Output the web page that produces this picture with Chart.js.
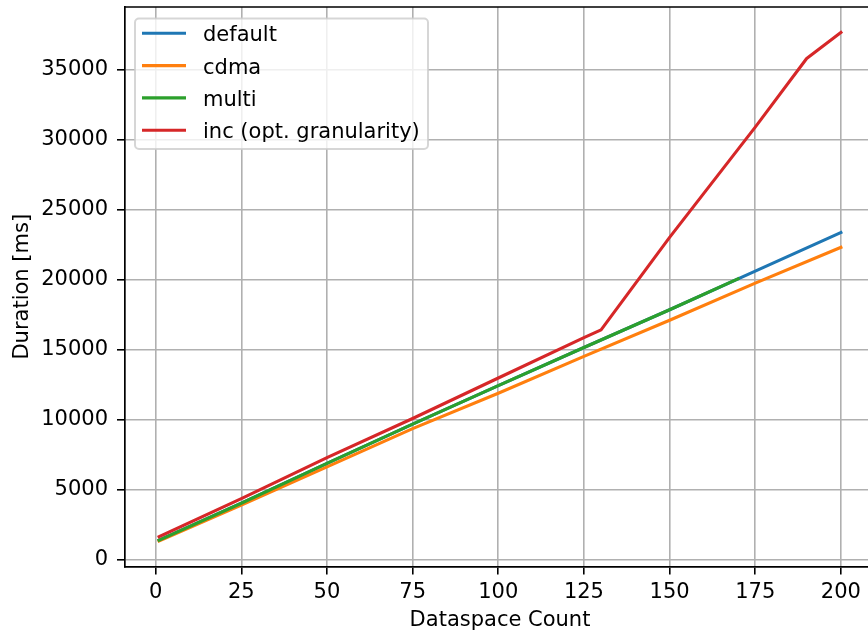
<!DOCTYPE html>
<html>
<head>
<meta charset="utf-8">
<script src="https://cdn.jsdelivr.net/npm/chart.js@4"></script>
<style>
  html, body { margin: 0; padding: 0; background: #fff; overflow: hidden; }
  #wrap { width: 900px; height: 631px; }
</style>
</head>
<body>
<div id="wrap"><canvas id="chart" width="900" height="631"></canvas></div>
<script>
// Data (dataspace count -> duration in ms)
const counts = [1, 25, 50, 75, 100, 125, 150, 175, 200];
const defaultMs = [1420, 4050, 6900, 9700, 12450, 15170, 17860, 20620, 23380];
const cdmaMs = [1350, 3920, 6650, 9380, 11900, 14530, 17110, 19760, 22320];
const multiCounts = [1, 25, 50, 75, 100, 125, 150, 170];
const multiMs = [1420, 4050, 6900, 9700, 12450, 15170, 17860, 20070];
const incCounts = [1, 25, 50, 75, 100, 125, 130, 150, 175, 190, 200];
const incMs = [1660, 4380, 7300, 10100, 12990, 15880, 16430, 23030, 30900, 35800, 37660];

const seriesLabels = ["default", "cdma", "multi", "inc (opt. granularity)"];
const seriesColors = ["#1f77b4", "#ff7f0e", "#2ca02c", "#d62728"];
const xTicks = [0, 25, 50, 75, 100, 125, 150, 175, 200];
const yTicks = [0, 5000, 10000, 15000, 20000, 25000, 30000, 35000];

function pairs(xs, ys) {
  return xs.map((x, i) => ({ x: x, y: ys[i] }));
}

// matplotlib-like 5% autoscale margins
const allX = counts.concat(multiCounts, incCounts);
const allY = defaultMs.concat(cdmaMs, multiMs, incMs);
const xLo = Math.min(...allX), xHi = Math.max(...allX);
const yLo = Math.min(...allY), yHi = Math.max(...allY);
const xPad = (xHi - xLo) * 0.05, yPad = (yHi - yLo) * 0.05;

const font = { family: "DejaVu Sans", size: 21 };

// fixed axis box sizes, no extra label overflow padding
function fixBox(size) {
  return function (scale) {
    if (scale.isHorizontal()) scale.height = size;
    else scale.width = size;
    scale.paddingTop = 0;
    scale.paddingBottom = 0;
    scale.paddingLeft = 0;
    scale.paddingRight = 0;
  };
}

// top/right spines + matplotlib style legend
const mplFrame = {
  id: "mplFrame",
  afterDatasetsDraw(chart) {
    const { ctx, chartArea } = chart;
    ctx.save();
    ctx.strokeStyle = "#000";
    ctx.lineWidth = 1.7;
    ctx.beginPath();
    ctx.moveTo(chartArea.left, chartArea.top);
    ctx.lineTo(chartArea.right, chartArea.top);
    ctx.lineTo(chartArea.right, chartArea.bottom);
    ctx.stroke();

    // legend box
    const bx = 135, by = 18.5, bw = 293, bh = 130.5, r = 4;
    ctx.beginPath();
    ctx.moveTo(bx + r, by);
    ctx.arcTo(bx + bw, by, bx + bw, by + bh, r);
    ctx.arcTo(bx + bw, by + bh, bx, by + bh, r);
    ctx.arcTo(bx, by + bh, bx, by, r);
    ctx.arcTo(bx, by, bx + bw, by, r);
    ctx.closePath();
    ctx.fillStyle = "rgba(255,255,255,0.8)";
    ctx.fill();
    ctx.strokeStyle = "rgba(204,204,204,0.8)";
    ctx.lineWidth = 2;
    ctx.stroke();

    ctx.font = font.size + "px " + font.family;
    ctx.textBaseline = "alphabetic";
    ctx.textAlign = "left";
    chart.data.datasets.forEach((ds, i) => {
      const cy = 33.3 + i * 32.3;
      ctx.strokeStyle = ds.borderColor;
      ctx.lineWidth = 3.1;
      ctx.beginPath();
      ctx.moveTo(142, cy);
      ctx.lineTo(186, cy);
      ctx.stroke();
      ctx.fillStyle = "#000";
      ctx.fillText(ds.label, 203, cy + 8);
    });
    ctx.restore();
  },
};

const ctx = document.getElementById("chart").getContext("2d");
new Chart(ctx, {
  type: "line",
  data: {
    datasets: [
      { label: seriesLabels[0], data: pairs(counts, defaultMs), order: 3 },
      { label: seriesLabels[1], data: pairs(counts, cdmaMs), order: 2 },
      { label: seriesLabels[2], data: pairs(multiCounts, multiMs), order: 1 },
      { label: seriesLabels[3], data: pairs(incCounts, incMs), order: 0 },
    ].map((ds, i) => Object.assign(ds, {
      borderColor: seriesColors[i],
      backgroundColor: seriesColors[i],
      borderWidth: 3.1,
      pointRadius: 0,
      tension: 0,
      fill: false,
      borderJoinStyle: "round",
      borderCapStyle: "square",
    })),
  },
  options: {
    responsive: false,
    animation: false,
    devicePixelRatio: 1,
    layout: { padding: { left: 0, right: 25, top: 7, bottom: 0 } },
    plugins: {
      legend: { display: false },
      tooltip: { enabled: false },
    },
    scales: {
      x: {
        type: "linear",
        min: xLo - xPad,
        max: xHi + xPad,
        afterBuildTicks(scale) { scale.ticks = xTicks.map((v) => ({ value: v })); },
        afterFit: fixBox(64.5),
        ticks: {
          autoSkip: false,
          maxRotation: 0,
          color: "#000",
          font: font,
          padding: 5,
          callback: (v) => String(v),
        },
        grid: { color: "#b0b0b0", lineWidth: 1.6, tickColor: "#000", tickLength: 8, tickWidth: 1.6 },
        border: { color: "#000", width: 1.7 },
        title: { display: true, text: "Dataspace Count", color: "#000", font: font, padding: { top: 0, bottom: -2 } },
      },
      y: {
        type: "linear",
        min: yLo - yPad,
        max: yHi + yPad,
        afterBuildTicks(scale) { scale.ticks = yTicks.map((v) => ({ value: v })); },
        afterFit: fixBox(125),
        ticks: {
          autoSkip: false,
          color: "#000",
          font: font,
          padding: 9,
          callback: (v) => String(v),
        },
        grid: { color: "#b0b0b0", lineWidth: 1.6, tickColor: "#000", tickLength: 8, tickWidth: 1.6 },
        border: { color: "#000", width: 1.7 },
        title: { display: true, text: "Duration [ms]", color: "#000", font: font, padding: { top: 10, bottom: 0 } },
      },
    },
  },
  plugins: [mplFrame],
});
</script>
</body>
</html>
